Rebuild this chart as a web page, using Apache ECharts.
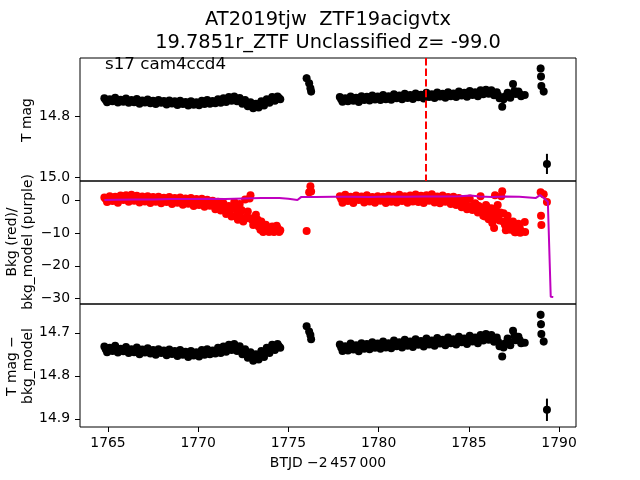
<!DOCTYPE html>
<html>
<head>
<meta charset="utf-8">
<title>AT2019tjw TESS light curve</title>
<script src="https://cdn.jsdelivr.net/npm/echarts@6/dist/echarts.min.js"></script>
<style>
  html, body { margin: 0; padding: 0; background: #fff; }
  #chart { width: 640px; height: 480px; }
</style>
</head>
<body>
<div id="chart"></div>
<script>
// times are BTJD - 2457000
const seg1Time = [
  1764.80, 1764.95, 1765.10, 1765.25, 1765.40, 1765.55, 1765.70, 1765.85, 1766.00, 1766.15,
  1766.30, 1766.45, 1766.60, 1766.75, 1766.90, 1767.05, 1767.20, 1767.35, 1767.50, 1767.65,
  1767.80, 1767.95, 1768.10, 1768.25, 1768.40, 1768.55, 1768.70, 1768.85, 1769.00, 1769.15,
  1769.30, 1769.45, 1769.60, 1769.75, 1769.90, 1770.05, 1770.20, 1770.35, 1770.50, 1770.65,
  1770.80, 1770.95, 1771.10, 1771.25, 1771.40, 1771.55, 1771.70, 1771.85, 1772.00, 1772.15,
  1772.30, 1772.45, 1772.60, 1772.75, 1772.90, 1773.05, 1773.20, 1773.35, 1773.50, 1773.65,
  1773.80, 1773.95, 1774.10, 1774.25, 1774.40, 1774.55
]
const seg3Time = [
  1777.85, 1778.00, 1778.15, 1778.30, 1778.45, 1778.60, 1778.75, 1778.90, 1779.05, 1779.20,
  1779.35, 1779.50, 1779.65, 1779.80, 1779.95, 1780.10, 1780.25, 1780.40, 1780.55, 1780.70,
  1780.85, 1781.00, 1781.15, 1781.30, 1781.45, 1781.60, 1781.75, 1781.90, 1782.05, 1782.20,
  1782.35, 1782.50, 1782.65, 1782.80, 1782.95, 1783.10, 1783.25, 1783.40, 1783.55, 1783.70,
  1783.85, 1784.00, 1784.15, 1784.30, 1784.45, 1784.60, 1784.75, 1784.90, 1785.05, 1785.20,
  1785.35, 1785.50, 1785.65, 1785.80, 1785.95, 1786.10, 1786.25, 1786.40, 1786.55, 1786.70,
  1786.85, 1787.00, 1787.15, 1787.30, 1787.45, 1787.60, 1787.75, 1787.90, 1788.10
]
// in-between cadences that fill the middle of the dense bands
const fillTime = [
  1764.875, 1765.175, 1765.475, 1765.775, 1766.075, 1766.375, 1766.675, 1766.975, 1767.275, 1767.575,
  1767.875, 1768.175, 1768.475, 1768.775, 1769.075, 1769.375, 1769.675, 1769.975, 1770.275, 1770.575,
  1770.875, 1771.175, 1771.475, 1771.775, 1772.075, 1772.375, 1772.675, 1772.975, 1773.275, 1773.575,
  1773.875, 1774.175, 1774.475,
  1777.925, 1778.225, 1778.525, 1778.825, 1779.125, 1779.425, 1779.725, 1780.025, 1780.325, 1780.625,
  1780.925, 1781.225, 1781.525, 1781.825, 1782.125, 1782.425, 1782.725, 1783.025, 1783.325, 1783.625,
  1783.925, 1784.225, 1784.525, 1784.825, 1785.125, 1785.425, 1785.725, 1786.025, 1786.325, 1786.625,
  1786.925, 1787.225, 1787.525, 1787.825
]
// isolated points that show error bars
const isoTime = [1776.01, 1776.15, 1776.22, 1776.26, 1788.98, 1789.00, 1789.02, 1789.15, 1789.33]

// top panel: T mag
const tmagSeg1 = [
  14.742, 14.755, 14.745, 14.752, 14.740, 14.756, 14.747, 14.753, 14.743, 14.757,
  14.748, 14.755, 14.744, 14.760, 14.749, 14.756, 14.746, 14.758, 14.750, 14.761,
  14.748, 14.757, 14.751, 14.762, 14.749, 14.759, 14.752, 14.764, 14.750, 14.761,
  14.754, 14.766, 14.752, 14.763, 14.755, 14.765, 14.750, 14.761, 14.748, 14.760,
  14.751, 14.758, 14.745, 14.757, 14.742, 14.754, 14.738, 14.750, 14.736, 14.752,
  14.741, 14.760, 14.748, 14.768, 14.755, 14.775, 14.760, 14.772, 14.752, 14.766,
  14.745, 14.757, 14.738, 14.750, 14.736, 14.745
]
const tmagSeg3 = [
  14.738, 14.753, 14.742, 14.752, 14.736, 14.750, 14.740, 14.754, 14.735, 14.748,
  14.737, 14.749, 14.733, 14.746, 14.736, 14.748, 14.731, 14.745, 14.735, 14.747,
  14.729, 14.742, 14.733, 14.745, 14.727, 14.741, 14.731, 14.744, 14.726, 14.739,
  14.730, 14.743, 14.724, 14.738, 14.729, 14.741, 14.723, 14.736, 14.727, 14.740,
  14.722, 14.735, 14.726, 14.738, 14.720, 14.733, 14.724, 14.737, 14.718, 14.731,
  14.722, 14.735, 14.716, 14.729, 14.714, 14.727, 14.716, 14.732, 14.722, 14.742,
  14.770, 14.736, 14.724, 14.740, 14.695, 14.728, 14.720, 14.735, 14.731
]
const tmagFill = [
  14.748, 14.749, 14.748, 14.750, 14.750, 14.751, 14.752, 14.752, 14.752, 14.755,
  14.753, 14.756, 14.754, 14.758, 14.756, 14.760, 14.758, 14.760, 14.756, 14.754,
  14.755, 14.751, 14.748, 14.744, 14.744, 14.750, 14.758, 14.765, 14.766, 14.759,
  14.751, 14.744, 14.741,
  14.745, 14.747, 14.743, 14.747, 14.742, 14.743, 14.740, 14.742, 14.738, 14.741,
  14.736, 14.739, 14.734, 14.737, 14.733, 14.736, 14.731, 14.735, 14.730, 14.733,
  14.728, 14.732, 14.727, 14.730, 14.725, 14.728, 14.722, 14.721, 14.724, 14.732,
  14.745, 14.732, 14.718, 14.728
]
const isoTmag = [14.676, 14.693, 14.709, 14.720, 14.644, 14.671, 14.702, 14.720, 14.957]
const isoTmagErr = [0.012, 0.012, 0.012, 0.012, 0.012, 0.012, 0.012, 0.012, 0.033]

// middle panel: background flux (red) and background model (purple)
const bkgSeg1 = [
  0.8, -0.6, 1.2, -0.3, 1.0, -0.8, 1.4, 0.0, 1.5, -0.5,
  1.6, -0.2, 1.3, -0.7, 1.1, -0.4, 1.2, -0.9, 0.9, -0.5,
  1.0, -1.0, 0.7, -0.6, 0.9, -1.2, 0.6, -0.8, 0.8, -1.4,
  0.5, -1.1, 0.6, -1.8, 0.3, -1.5, 0.4, -2.0, 0.1, -1.7,
  -0.2, -2.8, -0.5, -3.2, -1.0, -4.2, -1.8, -5.0, -0.6, -4.6,
  -1.2, -5.5, 0.2, -3.5, 1.5, -7.6, -4.5, -8.0, -6.5, -9.5,
  -8.2, -9.6, -8.0, -9.5, -8.5, -9.2
]
const bkgSeg3 = [
  1.2, -0.8, 1.6, -0.3, 1.0, -0.9, 1.4, 0.0, 1.1, -0.7,
  1.5, -0.4, 0.9, -0.8, 1.2, -0.2, 1.0, -0.9, 1.3, -0.5,
  1.1, -0.7, 1.6, -0.3, 1.2, -0.8, 1.4, -0.4, 1.7, -0.6,
  1.3, -0.9, 1.5, -0.2, 1.8, -0.7, 1.1, -1.0, 1.4, -0.5,
  0.9, -1.2, 1.0, -1.5, 0.6, -2.2, 0.3, -2.8, 0.5, -3.0,
  -1.0, -3.8, 1.2, -4.8, -1.5, -5.8, -2.5, -8.5, -3.5, -6.2,
  2.7, -7.5, -4.8, -9.0, -6.5, -9.8, -7.2, -9.5, -6.7
]
const bkgFill = [
  0.3, 0.4, 0.2, 0.5, 0.3, 0.6, 0.2, 0.3, 0.1, 0.2,
  0.0, -0.1, -0.2, -0.3, -0.2, -0.5, -0.6, -0.8, -0.7, -1.0,
  -1.5, -1.8, -2.5, -3.2, -2.8, -3.5, -5.5, -6.0, -6.8, -8.0,
  -9.0, -8.8, -9.6,
  0.3, 0.5, 0.2, 0.6, 0.4, 0.3, 0.5, 0.2, 0.6, 0.4,
  0.3, 0.7, 0.4, 0.6, 0.5, 0.3, 0.7, 0.4, 0.2, 0.5,
  0.0, -0.3, -1.0, -0.8, -1.8, -1.5, -2.5, -3.2, -4.5, -5.0,
  -4.0, -7.0, -8.0, -8.5
]
const isoBkg = [-9.4, 2.4, 4.2, 2.6, 2.4, -4.8, -7.6, 1.8, -0.6]
// extra background samples in the two scattered dips
const bkgDipTime = [
  1771.60, 1771.90, 1772.20, 1772.40, 1772.50, 1772.70, 1772.85, 1773.00, 1773.30, 1773.45,
  1773.60, 1773.75, 1773.90, 1774.05, 1774.20, 1774.35, 1774.50,
  1784.70, 1785.00, 1785.30, 1785.55, 1785.70, 1785.90, 1786.00, 1786.20, 1786.30, 1786.50,
  1786.60, 1786.75, 1786.90, 1787.05, 1787.20, 1787.40, 1787.55, 1787.70, 1787.85, 1786.45,
  1786.80, 1788.12
]
const bkgDip = [
  -3.0, -2.2, -6.0, -3.0, -6.5, -5.0, 0.5, -5.5, -6.0, -9.0,
  -9.7, -7.5, -9.6, -9.0, -9.7, -7.8, -9.6,
  -1.5, -2.0, -2.5, -1.8, -3.2, -5.0, -2.0, -4.0, -7.0, -5.5,
  -1.5, -3.8, -6.5, -9.2, -6.8, -8.0, -9.8, -8.8, -9.9, 1.5,
  1.2, -9.7
]
const modelTime = [
  1764.8, 1765.5, 1766.5, 1767.5, 1768.5, 1769.5, 1770.5, 1771.5, 1772.5, 1773.5,
  1774.5, 1775.0, 1775.5, 1775.7, 1776.5, 1777.5, 1778.5, 1779.5, 1780.5, 1781.5,
  1782.5, 1783.5, 1784.5, 1785.1, 1785.6, 1786.3, 1787.0, 1787.8, 1788.7, 1788.95,
  1789.15, 1789.38, 1789.54, 1789.68
]
const modelVal = [
  0.0, 0.1, 0.2, 0.2, 0.3, 0.3, 0.4, 0.3, 0.5, 0.6,
  0.6, 0.4, 0.0, 0.9, 0.9, 1.0, 1.0, 0.9, 1.1, 1.0,
  1.1, 1.1, 1.2, 1.4, 1.1, 0.9, 1.1, 1.0, 0.6, 1.5,
  0.6, -0.5, -29.4, -29.5
]

// bottom panel: T mag - bkg_model
const diffSeg1 = [
  14.732, 14.745, 14.735, 14.742, 14.730, 14.746, 14.737, 14.743, 14.733, 14.747,
  14.738, 14.745, 14.734, 14.750, 14.739, 14.746, 14.736, 14.748, 14.740, 14.751,
  14.738, 14.747, 14.741, 14.752, 14.739, 14.749, 14.742, 14.754, 14.740, 14.751,
  14.744, 14.756, 14.742, 14.753, 14.745, 14.755, 14.740, 14.751, 14.738, 14.750,
  14.741, 14.748, 14.735, 14.747, 14.732, 14.744, 14.728, 14.740, 14.726, 14.742,
  14.731, 14.750, 14.738, 14.758, 14.745, 14.765, 14.750, 14.762, 14.742, 14.756,
  14.735, 14.747, 14.728, 14.740, 14.726, 14.735
]
const diffSeg3 = [
  14.727, 14.742, 14.731, 14.741, 14.725, 14.739, 14.729, 14.743, 14.724, 14.737,
  14.726, 14.738, 14.722, 14.735, 14.725, 14.737, 14.720, 14.734, 14.724, 14.736,
  14.718, 14.731, 14.722, 14.734, 14.716, 14.730, 14.720, 14.733, 14.715, 14.728,
  14.719, 14.732, 14.713, 14.727, 14.718, 14.730, 14.712, 14.725, 14.716, 14.729,
  14.711, 14.724, 14.715, 14.727, 14.709, 14.722, 14.713, 14.726, 14.707, 14.720,
  14.711, 14.724, 14.705, 14.718, 14.703, 14.716, 14.705, 14.721, 14.711, 14.731,
  14.755, 14.725, 14.713, 14.729, 14.695, 14.717, 14.709, 14.724, 14.723
]
const diffFill = [
  14.738, 14.739, 14.738, 14.740, 14.740, 14.741, 14.742, 14.742, 14.742, 14.745,
  14.743, 14.746, 14.744, 14.748, 14.746, 14.750, 14.748, 14.750, 14.746, 14.744,
  14.745, 14.741, 14.738, 14.734, 14.734, 14.740, 14.748, 14.755, 14.756, 14.749,
  14.741, 14.734, 14.731,
  14.734, 14.736, 14.732, 14.736, 14.731, 14.732, 14.729, 14.731, 14.727, 14.730,
  14.725, 14.728, 14.723, 14.726, 14.722, 14.725, 14.720, 14.724, 14.719, 14.722,
  14.717, 14.721, 14.716, 14.719, 14.714, 14.717, 14.711, 14.710, 14.713, 14.721,
  14.734, 14.721, 14.707, 14.717
]
const isoDiff = [14.685, 14.697, 14.705, 14.715, 14.658, 14.680, 14.703, 14.720, 14.879]
const isoDiffErr = [0.008, 0.008, 0.008, 0.008, 0.009, 0.009, 0.009, 0.009, 0.026]

const triggerTime = 1782.61

// ticks
const xTicks = [1765, 1770, 1775, 1780, 1785, 1790]
const tmagTicks = [14.8, 15.0]
const bkgTicks = [0, -10, -20, -30]
const diffTicks = [14.7, 14.8, 14.9]

const FONT = 'DejaVu Sans'
const pair = (xs, ys) => xs.map((x, i) => [x, ys[i]])
const withErr = (xs, ys, es) => xs.map((x, i) => [x, ys[i], es[i]])
const minus = v => (v < 0 ? '\u2212' + Math.abs(v) : String(v))

const panels = [
  { top: 58, height: 123 },
  { top: 181, height: 123 },
  { top: 304, height: 123 }
]

const tickStyle = { length: 5, lineStyle: { color: '#000', width: 1 } }
const labelStyle = { color: '#000', fontFamily: FONT, fontSize: 13.9 }

function xAxisFor (i) {
  const bottom = i === 2
  return {
    type: 'value',
    gridIndex: i,
    min: 1763.45,
    max: 1790.94,
    axisLine: { show: false },
    splitLine: { show: false },
    axisTick: bottom ? { customValues: xTicks, ...tickStyle } : { show: false },
    axisLabel: bottom
      ? { customValues: xTicks, margin: 9, formatter: v => String(v), ...labelStyle }
      : { show: false }
  }
}

function yAxisFor (i, min, max, ticks, inverse, fmt) {
  return {
    type: 'value',
    gridIndex: i,
    min: min,
    max: max,
    inverse: inverse,
    axisLine: { show: false },
    splitLine: { show: false },
    axisTick: { customValues: ticks, ...tickStyle },
    axisLabel: { customValues: ticks, margin: 10, formatter: fmt, ...labelStyle }
  }
}

function errorBars (xIdx, yIdx, data) {
  return {
    type: 'custom',
    xAxisIndex: xIdx,
    yAxisIndex: yIdx,
    data: data,
    z: 3,
    renderItem: (params, api) => {
      const x = api.value(0)
      const y = api.value(1)
      const e = api.value(2)
      const a = api.coord([x, y - e])
      const b = api.coord([x, y + e])
      return {
        type: 'line',
        shape: { x1: a[0], y1: a[1], x2: b[0], y2: b[1] },
        style: { stroke: '#000', lineWidth: 2 }
      }
    }
  }
}

function dots (xIdx, yIdx, data, color) {
  return {
    type: 'scatter',
    xAxisIndex: xIdx,
    yAxisIndex: yIdx,
    data: data,
    symbolSize: 8,
    itemStyle: { color: color, opacity: 1 },
    z: 4
  }
}

const tmagPts = pair(seg1Time, tmagSeg1).concat(pair(seg3Time, tmagSeg3), pair(fillTime, tmagFill), pair(isoTime, isoTmag))
const bkgPts = pair(seg1Time, bkgSeg1).concat(pair(seg3Time, bkgSeg3), pair(fillTime, bkgFill), pair(isoTime, isoBkg), pair(bkgDipTime, bkgDip))
const diffPts = pair(seg1Time, diffSeg1).concat(pair(seg3Time, diffSeg3), pair(fillTime, diffFill), pair(isoTime, isoDiff))

const rotText = (x, y, text) => ({
  type: 'text',
  x: x,
  y: y,
  rotation: Math.PI / 2,
  style: {
    text: text,
    fill: '#000',
    fontFamily: FONT,
    fontSize: 13.9,
    lineHeight: 16,
    align: 'center',
    verticalAlign: 'middle'
  }
})

const plainText = (x, y, text, size, align) => ({
  type: 'text',
  x: x,
  y: y,
  style: {
    text: text,
    fill: '#000',
    fontFamily: FONT,
    fontSize: size,
    align: align,
    verticalAlign: 'middle'
  }
})

const chart = echarts.init(document.getElementById('chart'), null, { renderer: 'canvas' })
chart.setOption({
  animation: false,
  backgroundColor: '#fff',
  grid: panels.map(p => ({
    left: 80,
    width: 496,
    top: p.top,
    height: p.height,
    show: true,
    borderColor: '#000',
    borderWidth: 1,
    backgroundColor: 'transparent',
    containLabel: false,
    outerBoundsMode: 'none'
  })),
  xAxis: [xAxisFor(0), xAxisFor(1), xAxisFor(2)],
  yAxis: [
    yAxisFor(0, 14.61, 15.013, tmagTicks, true, v => v.toFixed(1)),
    yAxisFor(1, -31.6, 5.8, bkgTicks, false, minus),
    yAxisFor(2, 14.633, 14.919, diffTicks, true, v => v.toFixed(1))
  ],
  series: [
    // top panel
    errorBars(0, 0, withErr(isoTime, isoTmag, isoTmagErr)),
    Object.assign(dots(0, 0, tmagPts, '#000'), {
      markLine: {
        silent: true,
        symbol: ['none', 'none'],
        label: { show: false },
        lineStyle: { color: '#ff0000', width: 2, type: [7.4, 3.2] },
        data: [{ xAxis: triggerTime }]
      }
    }),
    // middle panel
    dots(1, 1, bkgPts, '#ff0000'),
    {
      type: 'line',
      xAxisIndex: 1,
      yAxisIndex: 1,
      data: pair(modelTime, modelVal),
      showSymbol: false,
      lineStyle: { color: '#bf00bf', width: 2 },
      z: 5
    },
    // bottom panel
    errorBars(2, 2, withErr(isoTime, isoDiff, isoDiffErr)),
    dots(2, 2, diffPts, '#000')
  ],
  graphic: [
    plainText(328, 20, 'AT2019tjw  ZTF19acigvtx', 19.4, 'center'),
    plainText(328, 43, '19.7851r_ZTF Unclassified z= -99.0', 19.4, 'center'),
    plainText(105, 65, 's17 cam4ccd4', 16.7, 'left'),
    rotText(27, 120, 'T mag'),
    rotText(20, 242, 'Bkg (red)/\nbkg_model (purple)'),
    rotText(20, 366, 'T mag \u2212\nbkg_model'),
    plainText(328, 463, 'BTJD \u22122\u2009457\u2009000', 13.9, 'center')
  ]
})
</script>
</body>
</html>
